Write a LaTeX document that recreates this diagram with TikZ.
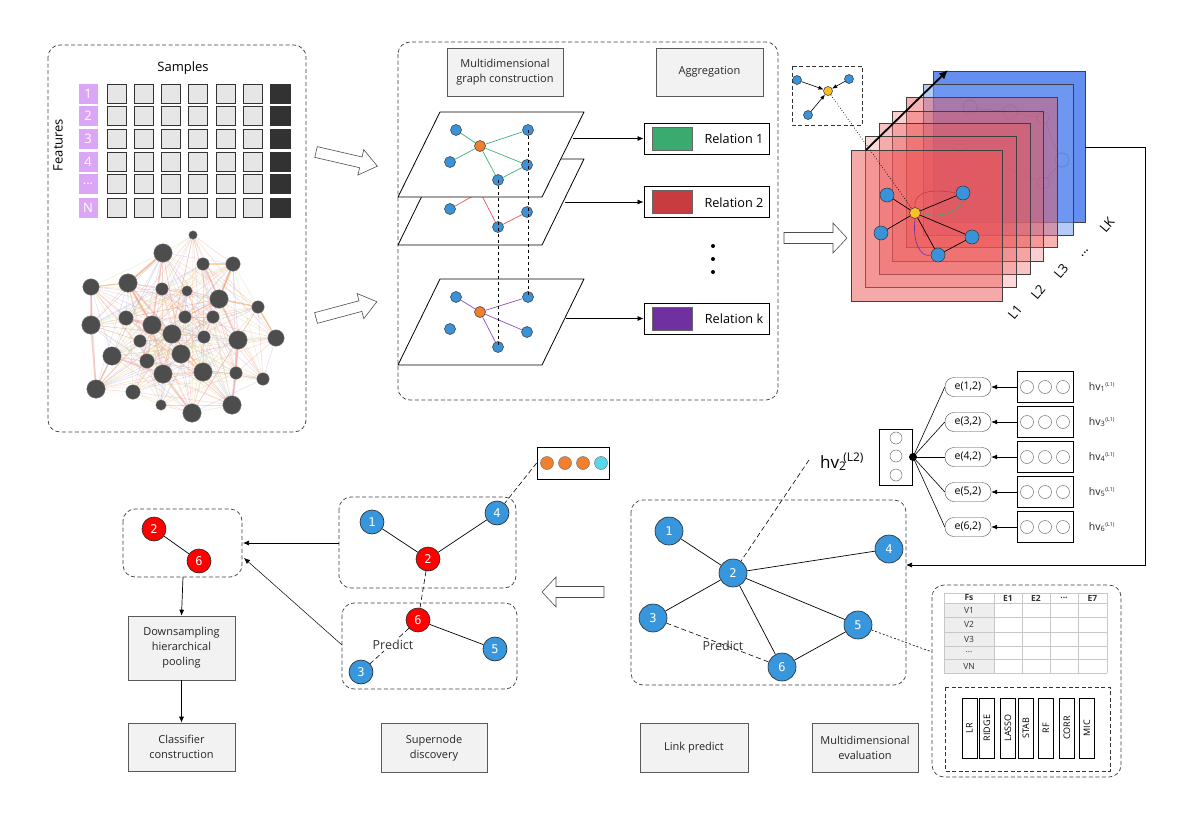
\documentclass[tikz,border=0pt]{standalone}
\usepackage{fontspec}
\setmainfont{Open Sans}
\setmonofont{DejaVu Sans Mono}
\usetikzlibrary{arrows.meta,shapes.geometric}
\definecolor{pblue}{RGB}{58,146,216}
\definecolor{porange}{RGB}{240,128,48}
\definecolor{pyellow}{RGB}{250,190,40}
\definecolor{rgreen}{RGB}{58,170,110}
\definecolor{rred}{RGB}{200,60,64}
\definecolor{rpurple}{RGB}{112,48,160}
\definecolor{egreen}{RGB}{70,180,120}
\definecolor{ered}{RGB}{230,90,90}
\definecolor{epurple}{RGB}{140,80,190}
\definecolor{featp}{RGB}{218,166,245}
\definecolor{cellg}{RGB}{230,230,230}
\definecolor{celld}{RGB}{50,50,50}
\definecolor{boxgray}{RGB}{242,242,242}
\definecolor{netgray}{RGB}{77,77,77}
\definecolor{lblue}{RGB}{55,150,220}
\definecolor{nred}{RGB}{255,0,0}
\definecolor{lay7}{RGB}{100,142,240}
\definecolor{lay6}{RGB}{120,160,242}
\definecolor{layr}{RGB}{238,85,85}
\definecolor{tabg}{RGB}{238,238,238}
\definecolor{tabl}{RGB}{200,200,200}
\definecolor{cyanc}{RGB}{90,215,235}
\definecolor{netc0}{RGB}{245,170,100}
\definecolor{netc1}{RGB}{240,140,140}
\definecolor{netc2}{RGB}{175,165,225}
\definecolor{netc3}{RGB}{190,215,140}
\newcommand\hollowarr[6]{%
\begin{scope}[shift={(#1,#2)},rotate=#3]
\draw[black!70, fill=white, line width=0.6pt, line join=miter] (0,-5.5) -- (#4-#5,-5.5) -- (#4-#5,-#6) -- (#4,0) -- (#4-#5,#6) -- (#4-#5,5.5) -- (0,5.5) -- cycle;
\end{scope}}
\def\netlist{193/235/4, 163/253/9, 203/264/6, 233/264/7, 91/287/8, 128/283/9, 162/289/6, 187/291/5, 219/299/9, 258/307/6, 91/325/9, 126/318/7, 152/325/9, 185/317/6, 213/317/6, 172/334/9, 204/337/6, 238/340/9, 276/338/8, 140/341/6, 112/356/9, 181/354/9, 147/361/7, 163/374/9, 203/372/9, 236/373/6, 263/379/6, 96/389/9, 133/392/7, 161/405/5, 192/413/9, 232/405/9}
\begin{document}
\begin{tikzpicture}[x=1pt,y=-1pt,
  every node/.style={inner sep=0pt},
  dashbox/.style={draw=black!75, dash pattern=on 4pt off 2.5pt, rounded corners=12pt, line width=0.7pt},
  sqdash/.style={draw=black!80, dash pattern=on 4pt off 2.5pt, line width=0.7pt},
  graybox/.style={draw=black!65, fill=boxgray, line width=0.6pt, align=center, font=\fontsize{11}{15}\selectfont, text=black!85},
  plane/.style={draw=black, fill=white, line width=0.8pt, line join=round},
  pnode/.style={circle, draw=black!80, fill=pblue, minimum size=11pt, line width=0.5pt},
  onode/.style={pnode, fill=porange},
  relbox/.style={draw=black, line width=0.8pt, minimum width=125pt, minimum height=31pt, fill=white},
  swatch/.style={draw=black!60, minimum width=40pt, minimum height=23pt},
  reltext/.style={font=\fontsize{12.7}{14}\selectfont},
  arr/.style={-{Latex[length=6pt,width=5pt]}, line width=0.7pt},
  lnode/.style={circle, draw=black!85, fill=lblue, minimum size=28pt, text=white, font=\ttfamily\fontsize{12}{13}\selectfont, line width=0.6pt},
  snode/.style={lnode, minimum size=24pt},
  rnode/.style={snode, fill=nred},
  pill/.style={draw=black!70, rounded corners=9pt, minimum width=46pt, minimum height=19pt, font=\fontsize{10.5}{11}\selectfont},
  tribox/.style={draw=black, minimum width=56pt, minimum height=31pt, line width=0.7pt},
  ring/.style={circle, draw=black!55, minimum size=13pt, line width=0.5pt},
  methbar/.style={draw=black, minimum width=15pt, minimum height=60pt, font=\fontsize{9}{10}\selectfont},
  netnode/.style={circle, fill=netgray, draw=netgray!70!white, line width=0.3pt},
  purp/.style={fill=featp, minimum width=19pt, minimum height=20pt, text=white, font=\fontsize{13}{14}\selectfont},
  cell/.style={draw=black!80, fill=cellg, minimum size=19pt, line width=0.7pt},
  dcell/.style={fill=celld, minimum height=20pt, minimum width=21pt},
  predict/.style={dash pattern=on 5pt off 3pt, line width=0.6pt},
  predtext/.style={font=\fontsize{12.5}{14}\selectfont, text=black!80},
  lay/.style={draw=black!75, line width=0.6pt},
  laytext/.style={font=\fontsize{13}{14}\selectfont, rotate=50},
  hvl/.style={font=\fontsize{10.5}{11}\selectfont, text=black!85},
  tabtext/.style={font=\fontsize{8.5}{9}\selectfont, text=black!80}
]
\useasboundingbox[fill=white] (0,0) rectangle (1187,819);

% ================= top-left panel =================
\draw[dashbox] (48,45) rectangle (306,432);
\node[font=\fontsize{13}{15}\selectfont] (samples) at (183,68) {Samples};
\node[font=\fontsize{13}{15}\selectfont, rotate=90] (features) at (58,145) {Features};
\foreach \y/\t [count=\r] in {94/1,116/2,139/3,162/4,184/{{...}},208/N}{
  \node[purp] (f\r) at (88,\y) {\t};
  \foreach \x [count=\c] in {116.5,144,171,198,226,253}{
    \node[cell] (c\r-\c) at (\x,\y) {};
  }
  \node[dcell] (d\r) at (280,\y) {};
}
% network
\foreach \x/\y/\r [count=\i] in \netlist { \coordinate (g\i) at (\x,\y); }
\pgfmathsetseed{4321}
\foreach \i in {1,...,32}{
  \foreach \j in {1,...,32}{
    \ifnum\j>\i
      \pgfmathsetmacro\rr{rnd}
      \ifdim\rr pt<0.5pt
        \pgfmathtruncatemacro\cc{mod(\i+\j,4)}
        \draw[netc\cc, opacity=0.4, line width=0.45pt] (g\i) -- (g\j);
      \fi
    \fi
  }
}
\foreach \a/\b in {2/13,9/18,18/32,5/11,11/28,3/9,4/9,13/24,24/31,16/22,6/16,18/26,26/32,21/24,12/16,2/6,6/13,13/16}{
  \draw[netc1, opacity=0.35, line width=1.8pt] (g\a) -- (g\b);
}
\foreach \a/\b in {2/6,9/10,6/13,22/25,16/25,3/4,10/19,4/9,9/14,5/6,21/28}{
  \draw[netc0, opacity=0.5, line width=1.4pt] (g\a) -- (g\b);
}
\foreach \x/\y/\r [count=\i] in \netlist { \node[netnode, minimum size=2*\r+0.5] (gn\i) at (g\i) {}; }

% hollow arrows
\hollowarr{316}{152}{-13}{63}{17}{13}
\hollowarr{316}{318}{15}{63}{17}{13}
\hollowarr{784}{238}{0}{63}{14}{15}
\hollowarr{604}{592}{180}{62}{14}{15}

% ================= middle panel =================
\draw[dashbox] (398,42) rectangle (778,400);
\node[graybox, minimum width=116pt, minimum height=48pt] (mgc) at (505,72) {Multidimensional\\graph construction};
\node[graybox, minimum width=107pt, minimum height=48pt] (agg) at (709.5,72) {Aggregation};

% plane 3
\draw[plane] (440,279) -- (584,279) -- (542,365) -- (398,365) -- cycle;
\node[pnode] (k1) at (456,297) {};
\node[onode] (ko) at (480,312) {};
\node[pnode] (k2) at (528,297) {};
\node[pnode] (k3) at (450,329) {};
\node[pnode] (k4) at (527,332) {};
\node[pnode] (k5) at (498,347) {};
\foreach \n in {k1,k2,k4,k5} \draw[epurple, line width=0.7pt] (ko) -- (\n);
% plane 2
\draw[plane] (440,159) -- (584,159) -- (542,245) -- (398,245) -- cycle;
\coordinate (bo) at (480,192);
\node[pnode] (b3) at (450,209) {};
\node[pnode] (b4) at (527,212) {};
\node[pnode] (b5) at (498,227) {};
\draw[ered, line width=0.7pt] (bo) -- (b3);
\draw[ered, line width=0.7pt] (bo) -- (b5);
\draw[ered, line width=0.7pt] (b5) -- (b4);
% plane 1
\draw[plane] (440,112) -- (584,112) -- (542,197) -- (398,197) -- cycle;
\node[pnode] (a1) at (456,130) {};
\node[onode] (ao) at (480,146) {};
\node[pnode] (a2) at (528,130) {};
\node[pnode] (a3) at (450,162) {};
\node[pnode] (a4) at (527,165) {};
\node[pnode] (a5) at (498,180) {};
\foreach \n in {a1,a2,a3,a4,a5} \draw[egreen, line width=0.7pt] (ao) -- (\n);
\draw[egreen, line width=0.7pt] (a4) -- (a5);
\draw[dashed, line width=0.7pt] (a2.center) -- (k2.center);
\draw[dashed, line width=0.7pt] (a5.center) -- (k5.center);

% relation boxes
\node[relbox] (rel1) at (706.5,138.5) {};
\node[swatch, fill=rgreen] (sw1) at (672,138.5) {};
\node[reltext] (rt1) at (734,139) {Relation 1};
\node[relbox] (rel2) at (706.5,202) {};
\node[swatch, fill=rred] (sw2) at (672,202) {};
\node[reltext] (rt2) at (734,202.5) {Relation 2};
\node[relbox] (relk) at (706.5,318.5) {};
\node[swatch, fill=rpurple] (swk) at (672,318.5) {};
\node[reltext] (rtk) at (734,319) {Relation k};
\coordinate (p1) at (573,138.5);
\coordinate (p2) at (565,202);
\coordinate (p3) at (566,318.5);
\draw[arr] (p1) -- (rel1.west);
\draw[arr] (p2) -- (rel2.west);
\draw[arr] (p3) -- (relk.west);
\fill (713,246) circle (2pt);
\fill (713,259) circle (2pt);
\fill (713,272) circle (2pt);

% ================= top right layers =================
\draw[sqdash] (792,66) rectangle (862,125);
\node[pnode, minimum size=9pt] (ib1) at (797,80) {};
\node[pnode, minimum size=9pt] (ib2) at (849,79) {};
\node[pnode, minimum size=9pt] (ib3) at (808,115) {};
\node[pnode, fill=pyellow, minimum size=9pt] (iy) at (828,91) {};
\foreach \n in {ib1,ib2,ib3} \draw[-{Latex[length=5pt,width=4pt]}, line width=0.6pt] (\n) -- (iy);

\filldraw[lay, fill=lay7] (933,71) rectangle (1085,222);
\filldraw[lay, fill=lay6, fill opacity=0.55] (923,84) rectangle (1073,235);
% faint ghost graph
\begin{scope}[opacity=0.13, line width=0.8pt]
\draw (970,107) circle (7) (1010,112) circle (7) (1043,118) circle (6) (1062,160) circle (7) (1043,183) circle (6) (960,150) circle (6);
\draw (976,109) -- (1003,111) (1016,114) -- (1038,117) (1046,124) -- (1058,154) (1058,166) -- (1047,178) (966,152) -- (1037,180);
\end{scope}
\filldraw[lay, fill=layr, fill opacity=0.45] (906,97) rectangle (1057,247);
\filldraw[lay, fill=layr, fill opacity=0.28] (892,111) rectangle (1043,261);
\filldraw[lay, fill=layr, fill opacity=0.35] (879,123) rectangle (1030,274);
\filldraw[lay, fill=layr, fill opacity=0.22] (865,136) rectangle (1016,287);
\filldraw[lay, fill=layr, fill opacity=0.5] (851,150) rectangle (1002,301);
\draw[line width=1.8pt, -{Latex[length=9pt,width=8pt]}] (866,150) -- (948,70);

% front graph
\node[pnode, minimum size=14pt] (lb1) at (887,195) {};
\node[pnode, minimum size=14pt] (lb2) at (963,193) {};
\node[pnode, minimum size=14pt] (lb3) at (881,233) {};
\node[pnode, minimum size=14pt] (lb4) at (972,237) {};
\node[pnode, minimum size=14pt] (lb5) at (938,255) {};
\node[pnode, fill=pyellow, minimum size=11pt] (ly) at (915,213) {};
\foreach \n in {lb1,lb2,lb3,lb4,lb5} \draw[line width=0.7pt] (ly) -- (\n);
\draw[line width=0.7pt] (lb4) -- (lb5);
\draw[rred, line width=0.6pt] (ly.north) .. controls (913,190) and (935,189) .. (lb2.west);
\draw[rgreen, line width=0.6pt] (ly.east) .. controls (940,219) and (957,212) .. (lb2.south);
\draw[rpurple, line width=0.6pt] (ly.south) .. controls (912,245) and (922,258) .. (lb5.west);
\draw[dotted, line width=0.7pt] (iy) -- (ly);

\node[laytext] (L1) at (1015,312) {L1};
\node[laytext] (L2) at (1038,292) {L2};
\node[laytext] (L3) at (1061,271) {L3};
\node[laytext] (Ld) at (1085,253) {{...}};
\node[laytext] (LK) at (1107,225) {LK};

% ================= hv panel =================
\node[draw, line width=0.7pt, minimum width=33pt, minimum height=56pt] (hvbox) at (895.5,457) {};
\foreach \y in {438,456,475} \node[ring, minimum size=12pt] at (896,\y) {};
\fill (913,457) circle (4pt);
\coordinate (jn) at (913,457);
\foreach \t/\y/\s in {{1,2}/387/1,{3,2}/422/3,{4,2}/457/4,{5,2}/492/5,{6,2}/527/6}{
  \node[pill] (e\s) at (968,\y) {e(\t)};
  \node[tribox] (t\s) at (1045,\y) {};
  \foreach \dx in {-18,0,18} \node[ring] at (1045+\dx,\y) {};
  \node[hvl] (hl\s) at (1102,\y) {hv\textsubscript{\s}\textsuperscript{\fontsize{5.5}{6}\selectfont(L1)}};
  \draw[line width=0.6pt] (jn) -- (e\s.west);
  \draw[arr] (t\s.west) -- (e\s.east);
}

\node[font=\fontsize{17}{19}\selectfont] (hv2) at (842,462) {hv\textsubscript{2}\kern-3pt\textsuperscript{(L2)}};

% ================= link predict =================
\draw[dashbox] (631,500) rectangle (906,685);
\node[lnode] (n1) at (669,531) {1};
\node[lnode] (n2) at (733,573) {2};
\node[lnode] (n3) at (653,618) {3};
\node[lnode] (n4) at (889,549) {4};
\node[lnode] (n5) at (858,625) {5};
\node[lnode] (n6) at (782,667) {6};
\foreach \a/\b in {n1/n2,n2/n4,n2/n3,n2/n5,n2/n6,n5/n6} \draw[line width=0.7pt] (\a) -- (\b);
\draw[predict] (n3) -- (n6);
\node[predtext] (pr1) at (723,646) {Predict};
\coordinate (hvc) at (809,460);
\draw[dash pattern=on 5pt off 3pt, line width=0.6pt] (hvc) -- (n2);
\coordinate (lpin) at (906,565);
\coordinate (l7e) at (1085,147);
\draw[arr] (l7e) -- (1145,147) -- (1145,565) -- (lpin);
\coordinate (evl) at (932,652);
\draw[dash pattern=on 2pt off 2pt, line width=0.6pt] (n5) -- (evl);

% ================= evaluation panel =================
\draw[dashbox] (932,585) rectangle (1121,777);
\fill[tabg] (944,603) rectangle (994,673);
\foreach \x in {944,994,1022,1050,1078,1107} \draw[tabl, line width=0.6pt] (\x,593) -- (\x,673);
\foreach \y in {593,603,617,632,646,659,673} \draw[tabl, line width=0.6pt] (944,\y) -- (1107,\y);
\foreach \x/\t in {969/Fs,1008/E1,1036/E2,1064/{{...}},1092.5/E7} \node[tabtext, font=\fontsize{8.5}{9}\selectfont\bfseries] at (\x,598) {\t};
\foreach \y/\t in {610/V1,624.5/V2,639/V3,652.5/{{...}},666/VN} \node[tabtext] at (969,\y) {\t};
\draw[sqdash] (945,687) rectangle (1110,771);
\foreach \x/\t/\s in {969.5/LR/m1,987/RIDGE/m2,1008/LASSO/m3,1026/STAB/m4,1046/RF/m5,1067/CORR/m6,1087/MIC/m7}
  \node[methbar] (\s) at (\x,728) {\rotatebox{90}{\t}};

% ================= supernode =================
\draw[dashbox] (339,497) rectangle (516,588);
\draw[dashbox] (342,603) rectangle (517,689);
\coordinate (snt) at (339,543);
\coordinate (snb) at (342,645);
\node[snode] (s1) at (372,522) {1};
\node[rnode] (s2) at (428,559) {2};
\node[snode] (s4) at (497,513) {4};
\node[rnode] (s6) at (418,620) {6};
\node[snode] (s5) at (495,649) {5};
\node[snode] (s3) at (361,672) {3};
\draw[line width=0.7pt] (s1) -- (s2);
\draw[line width=0.7pt] (s2) -- (s4);
\draw[line width=0.7pt] (s6) -- (s5);
\draw[predict] (s2) -- (s6);
\draw[predict] (s6) -- (s3);
\node[predtext, fill=white, inner sep=1pt] (pr2) at (393,645) {Predict};
\node[draw, line width=0.7pt, minimum width=72pt, minimum height=32pt] (vec) at (573,463) {};
\foreach \x in {547,565,583} \node[circle, fill=porange, draw=black!60, minimum size=13pt, line width=0.4pt] at (\x,463) {};
\node[circle, fill=cyanc, draw=black!60, minimum size=13pt, line width=0.4pt] at (601,463) {};
\draw[predict] (vec.west) -- (s4);

% ================= bottom-left =================
\draw[dashbox] (123,509) rectangle (242,577);
\node[rnode] (q2) at (154,529) {2};
\node[rnode] (q6) at (199,561) {6};
\draw[line width=0.7pt] (q2) -- (q6);
\coordinate (blb) at (183,577);
\coordinate (blr) at (243,543);
\coordinate (bld) at (244,558);
\draw[arr] (snt) -- (blr);
\draw[arr, line width=0.5pt] (snb) -- (bld);
\node[graybox, minimum width=107pt, minimum height=64pt] (down) at (181.5,648) {Downsampling\\hierarchical\\pooling};
\node[graybox, minimum width=107pt, minimum height=48pt] (clf) at (181.5,747) {Classifier\\construction};
\draw[arr] (blb) -- (down.north);
\draw[arr] (down.south) -- (clf.north);

\node[graybox, minimum width=106pt, minimum height=49pt] (sup) at (434,748) {Supernode\\discovery};
\node[graybox, minimum width=108pt, minimum height=49pt] (lp) at (694,748) {Link predict};
\node[graybox, minimum width=106pt, minimum height=49pt] (me) at (865,748) {Multidimensional\\evaluation};
\end{tikzpicture}
\end{document}
